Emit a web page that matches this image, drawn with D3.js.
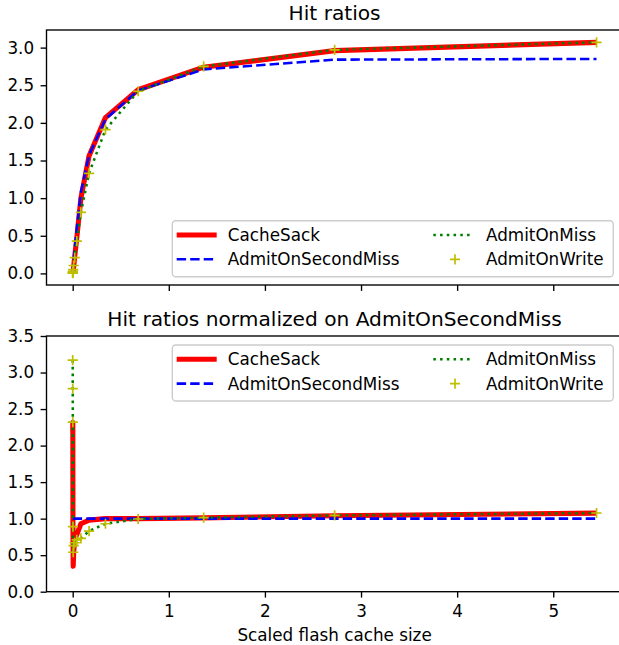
<!DOCTYPE html>
<html>
<head>
<meta charset="utf-8">
<script src="https://cdn.jsdelivr.net/npm/d3@7"></script>
<style>
  body { margin: 0; background: #fff; }
  text { font-family: "DejaVu Sans", sans-serif; fill: #000; }
</style>
</head>
<body>
<div id="vis-container"></div>
<script>
// scaled flash cache sizes (x values, smallest first)
var sizes = [0.0003, 0.0007, 0.0013, 0.0027, 0.0053, 0.0106, 0.0213, 0.0426, 0.0852, 0.170, 0.341, 0.681, 1.3625, 2.725, 5.45];

// hit ratios
var hitCacheSack    = [0.002, 0.007, 0.019, 0.027, 0.032, 0.09, 0.23, 0.47, 1.00, 1.56, 2.07, 2.44, 2.74, 2.96, 3.07];
var hitSecondMiss   = [0.001, 0.003, 0.008, 0.030, 0.09, 0.17, 0.32, 0.60, 1.08, 1.57, 2.05, 2.43, 2.71, 2.84, 2.85];
var hitOnMiss       = [0.003, 0.008, 0.019, 0.027, 0.05, 0.105, 0.21, 0.43, 0.81, 1.33, 1.91, 2.42, 2.75, 2.97, 3.07];
var hitOnWrite      = [0.003, 0.008, 0.019, 0.027, 0.05, 0.105, 0.21, 0.43, 0.81, 1.33, 1.91, 2.42, 2.75, 2.97, 3.07];

// hit ratios normalized on AdmitOnSecondMiss
var normCacheSack   = [2.20, 2.28, 2.32, 0.90, 0.35, 0.55, 0.72, 0.78, 0.93, 0.98, 1.00, 1.00, 1.01, 1.04, 1.075];
var normSecondMiss  = [1.00, 1.00, 1.00, 1.00, 1.00, 1.00, 1.00, 1.00, 1.00, 1.00, 1.00, 1.00, 1.00, 1.00, 1.00];
var normOnMiss      = [3.17, 2.78, 2.32, 0.89, 0.54, 0.63, 0.67, 0.71, 0.73, 0.83, 0.93, 0.995, 1.015, 1.045, 1.077];
var normOnWrite     = [3.17, 2.78, 2.32, 0.89, 0.54, 0.63, 0.67, 0.71, 0.73, 0.83, 0.93, 0.995, 1.015, 1.045, 1.077];

var seriesNames = ["CacheSack", "AdmitOnSecondMiss", "AdmitOnMiss", "AdmitOnWrite"];
var xTicks = [0, 1, 2, 3, 4, 5];
var yTicksTop = [0.0, 0.5, 1.0, 1.5, 2.0, 2.5, 3.0];
var yTicksBottom = [0.0, 0.5, 1.0, 1.5, 2.0, 2.5, 3.0, 3.5];

var W = 619, H = 645;
var FS = 16.8;

var svg = d3.select("#vis-container")
  .append("svg")
    .attr("width", W)
    .attr("height", H);

// shared x scale
var xScale = d3.scaleLinear()
  .domain([-0.2725, 5.7225])
  .range([46.5, 622.7]);

// line styles per series
var styles = [
  { color: "#ff0000", width: 5.1, dash: null, marker: false },
  { color: "#0000ff", width: 2.55, dash: "9.4,4.1", marker: false },
  { color: "#008000", width: 2.55, dash: "2.55,4.2", marker: false },
  { color: "#bfbf00", width: 0, dash: null, marker: true }
];

function drawPanel(opt) {
  var yScale = d3.scaleLinear().domain(opt.yDomain).range([opt.bottom, opt.top]);
  var g = svg.append("g");

  var clipId = "clip" + opt.id;
  g.append("clipPath").attr("id", clipId)
    .append("rect")
      .attr("x", xScale.range()[0]).attr("y", opt.top)
      .attr("width", xScale.range()[1] - xScale.range()[0])
      .attr("height", opt.bottom - opt.top);

  var plot = g.append("g").attr("clip-path", "url(#" + clipId + ")");
  var line = d3.line()
    .x(function(d) { return xScale(d[0]); })
    .y(function(d) { return yScale(d[1]); });

  opt.series.forEach(function(vals, i) {
    var st = styles[i];
    var pts = sizes.map(function(s, j) { return [s, vals[j]]; });
    if (!st.marker) {
      plot.append("path")
        .datum(pts)
        .attr("d", line)
        .attr("fill", "none")
        .attr("stroke", st.color)
        .attr("stroke-width", st.width)
        .attr("stroke-linejoin", "round")
        .attr("stroke-dasharray", st.dash);
    } else {
      plot.selectAll(".plus" + opt.id)
        .data(pts)
        .enter().append("path")
          .attr("class", "plus" + opt.id)
          .attr("d", function(d) {
            var cx = xScale(d[0]), cy = yScale(d[1]), r = 5.1;
            return "M" + (cx - r) + "," + cy + "H" + (cx + r) + "M" + cx + "," + (cy - r) + "V" + (cy + r);
          })
          .attr("stroke", st.color)
          .attr("stroke-width", 1.7)
          .attr("fill", "none");
    }
  });

  // axes
  var yAxis = d3.axisLeft(yScale)
    .tickValues(opt.yTicks)
    .tickFormat(d3.format(".1f"))
    .tickSize(5.9)
    .tickPadding(6.5);
  var ya = g.append("g")
    .attr("transform", "translate(" + xScale.range()[0] + ",0)")
    .call(yAxis);
  ya.select(".domain").remove();
  ya.selectAll("text").style("font-size", FS + "px").style("font-family", "DejaVu Sans");
  ya.selectAll("line").attr("stroke-width", 1.36);

  var xAxis = d3.axisBottom(xScale)
    .tickValues(xTicks)
    .tickSize(5.9)
    .tickPadding(7)
    .tickFormat(opt.showXLabels ? d3.format("d") : "");
  var xa = g.append("g")
    .attr("transform", "translate(0," + opt.bottom + ")")
    .call(xAxis);
  xa.select(".domain").remove();
  xa.selectAll("text").style("font-size", FS + "px").style("font-family", "DejaVu Sans");
  xa.selectAll("line").attr("stroke-width", 1.36);

  // frame
  g.append("rect")
    .attr("x", xScale.range()[0]).attr("y", opt.top)
    .attr("width", xScale.range()[1] - xScale.range()[0])
    .attr("height", opt.bottom - opt.top)
    .attr("fill", "none")
    .attr("stroke", "#000")
    .attr("stroke-width", 1.36);

  // title
  g.append("text")
    .attr("x", (xScale.range()[0] + xScale.range()[1]) / 2)
    .attr("y", opt.top - 10)
    .attr("text-anchor", "middle")
    .style("font-size", (FS * 1.2) + "px")
    .text(opt.title);

  // legend
  var lg = g.append("g").attr("transform", "translate(172.3," + opt.legendTop + ")");
  lg.append("rect")
    .attr("width", 441).attr("height", 56)
    .attr("rx", 3.5)
    .attr("fill", "#fff").attr("fill-opacity", 0.8)
    .attr("stroke", "#cccccc").attr("stroke-width", 1.36);
  var cols = [{ hx: 4.4, tx: 55.5 }, { hx: 261, tx: 313.7 }];
  seriesNames.forEach(function(name, i) {
    var col = cols[Math.floor(i / 2)], rowY = 14.3 + (i % 2) * 24.3;
    var st = styles[i];
    if (!st.marker) {
      lg.append("line")
        .attr("x1", col.hx).attr("x2", col.hx + 40)
        .attr("y1", rowY).attr("y2", rowY)
        .attr("stroke", st.color)
        .attr("stroke-width", st.width)
        .attr("stroke-dasharray", st.dash);
    } else {
      var cx = col.hx + 21.7, r = 5.1;
      lg.append("path")
        .attr("d", "M" + (cx - r) + "," + rowY + "H" + (cx + r) + "M" + cx + "," + (rowY - r) + "V" + (rowY + r))
        .attr("stroke", st.color).attr("stroke-width", 1.7);
    }
    lg.append("text")
      .attr("x", col.tx).attr("y", rowY + 6.1)
      .style("font-size", FS + "px")
      .text(name);
  });
}

drawPanel({
  id: "top", top: 30, bottom: 285,
  yDomain: [-0.154, 3.234], yTicks: yTicksTop,
  series: [hitCacheSack, hitSecondMiss, hitOnMiss, hitOnWrite],
  title: "Hit ratios", legendTop: 220.7, showXLabels: false
});

drawPanel({
  id: "bot", top: 336, bottom: 591.7,
  yDomain: [0, 3.5], yTicks: yTicksBottom,
  series: [normCacheSack, normSecondMiss, normOnMiss, normOnWrite],
  title: "Hit ratios normalized on AdmitOnSecondMiss", legendTop: 345, showXLabels: true
});

// x label
svg.append("text")
  .attr("x", 334.6)
  .attr("y", 641)
  .attr("text-anchor", "middle")
  .style("font-size", FS + "px")
  .text("Scaled flash cache size");
</script>
</body>
</html>
